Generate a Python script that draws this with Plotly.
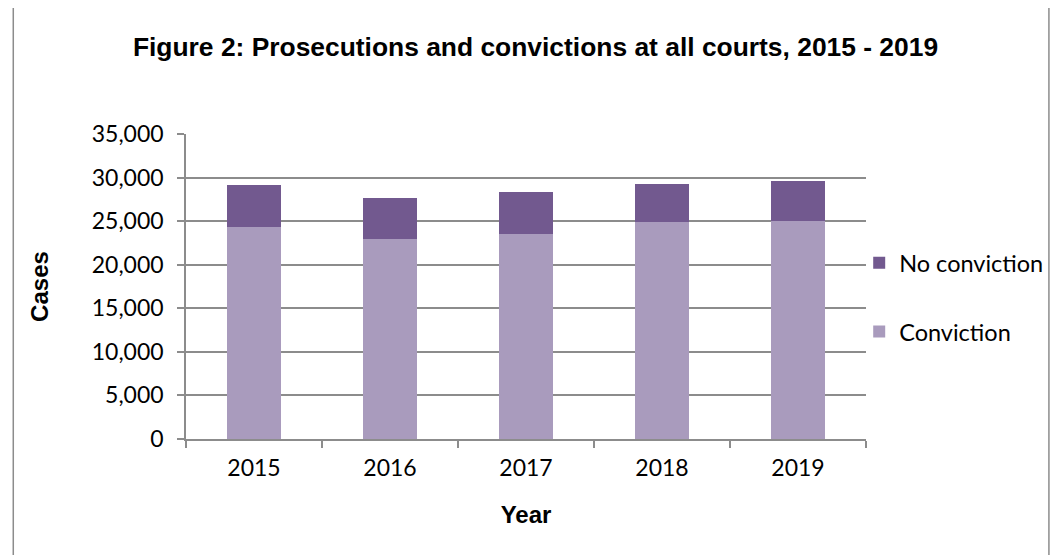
import plotly.graph_objects as go

COLOR_NO = "#72598f"
COLOR_CONV = "#a99bbd"
GRID = "#8c8c8c"
BODY = "Lato, Carlito, Calibri, sans-serif"
BOLD = "Liberation Sans, Arial, sans-serif"

years = ["2015", "2016", "2017", "2018", "2019"]
conviction = [24280, 22900, 23480, 24850, 24970]
no_conviction = [4920, 4700, 4810, 4470, 4580]

fig = go.Figure()
fig.add_trace(go.Bar(x=years, y=conviction, name="Conviction",
                     marker=dict(color=COLOR_CONV, line=dict(width=0)),
                     legendgroup="a", legendrank=2))
fig.add_trace(go.Bar(x=years, y=no_conviction, name="No conviction",
                     marker=dict(color=COLOR_NO, line=dict(width=0)),
                     legendgroup="b", legendrank=1))

# page body has an 8px margin, so the figure is sized/offset to compensate
fig.update_layout(
    width=1055, height=547,
    barmode="stack", bargap=0.6,
    paper_bgcolor="white", plot_bgcolor="white",
    margin=dict(l=178, r=197, t=126, b=116),
    font=dict(family=BODY, size=23, color="#000000"),
    title=dict(text="<b>Figure 2: Prosecutions and convictions at all courts, 2015 - 2019</b>",
               font=dict(family=BOLD, size=26.4, color="#000000"),
               x=0.5, xanchor="center", y=0.929, yanchor="middle"),
    legend=dict(x=0.99, y=0.649, xanchor="left", yanchor="top",
                traceorder="grouped", tracegroupgap=35,
                font=dict(size=23.5), bgcolor="rgba(0,0,0,0)"),
    showlegend=True,
)
fig.update_xaxes(
    title=dict(text="<b>Year</b>", font=dict(family=BOLD, size=24), standoff=26),
    showline=True, linecolor=GRID, linewidth=1.5,
    ticks="outside", tickson="boundaries", ticklen=7, tickcolor=GRID, tickwidth=1.5,
    ticklabelstandoff=8,
    showgrid=False,
)
fig.update_yaxes(
    title=dict(text="<b>Cases</b>", font=dict(family=BOLD, size=24), standoff=36),
    range=[0, 35000], dtick=5000, tickformat=",",
    showline=True, linecolor=GRID, linewidth=1.5,
    ticks="outside", ticklen=7, tickcolor=GRID, tickwidth=1.5,
    ticklabelstandoff=9,
    showgrid=True, gridcolor=GRID, gridwidth=1.5,
    zeroline=False,
)
# outer chart frame
fig.add_shape(type="rect", xref="paper", yref="paper",
              x0=-0.254, x1=1.269, y0=-0.42, y1=1.416,
              line=dict(color="#8c8c8c", width=1.5), fillcolor="rgba(0,0,0,0)",
              layer="below")

fig.write_html("out.html")
